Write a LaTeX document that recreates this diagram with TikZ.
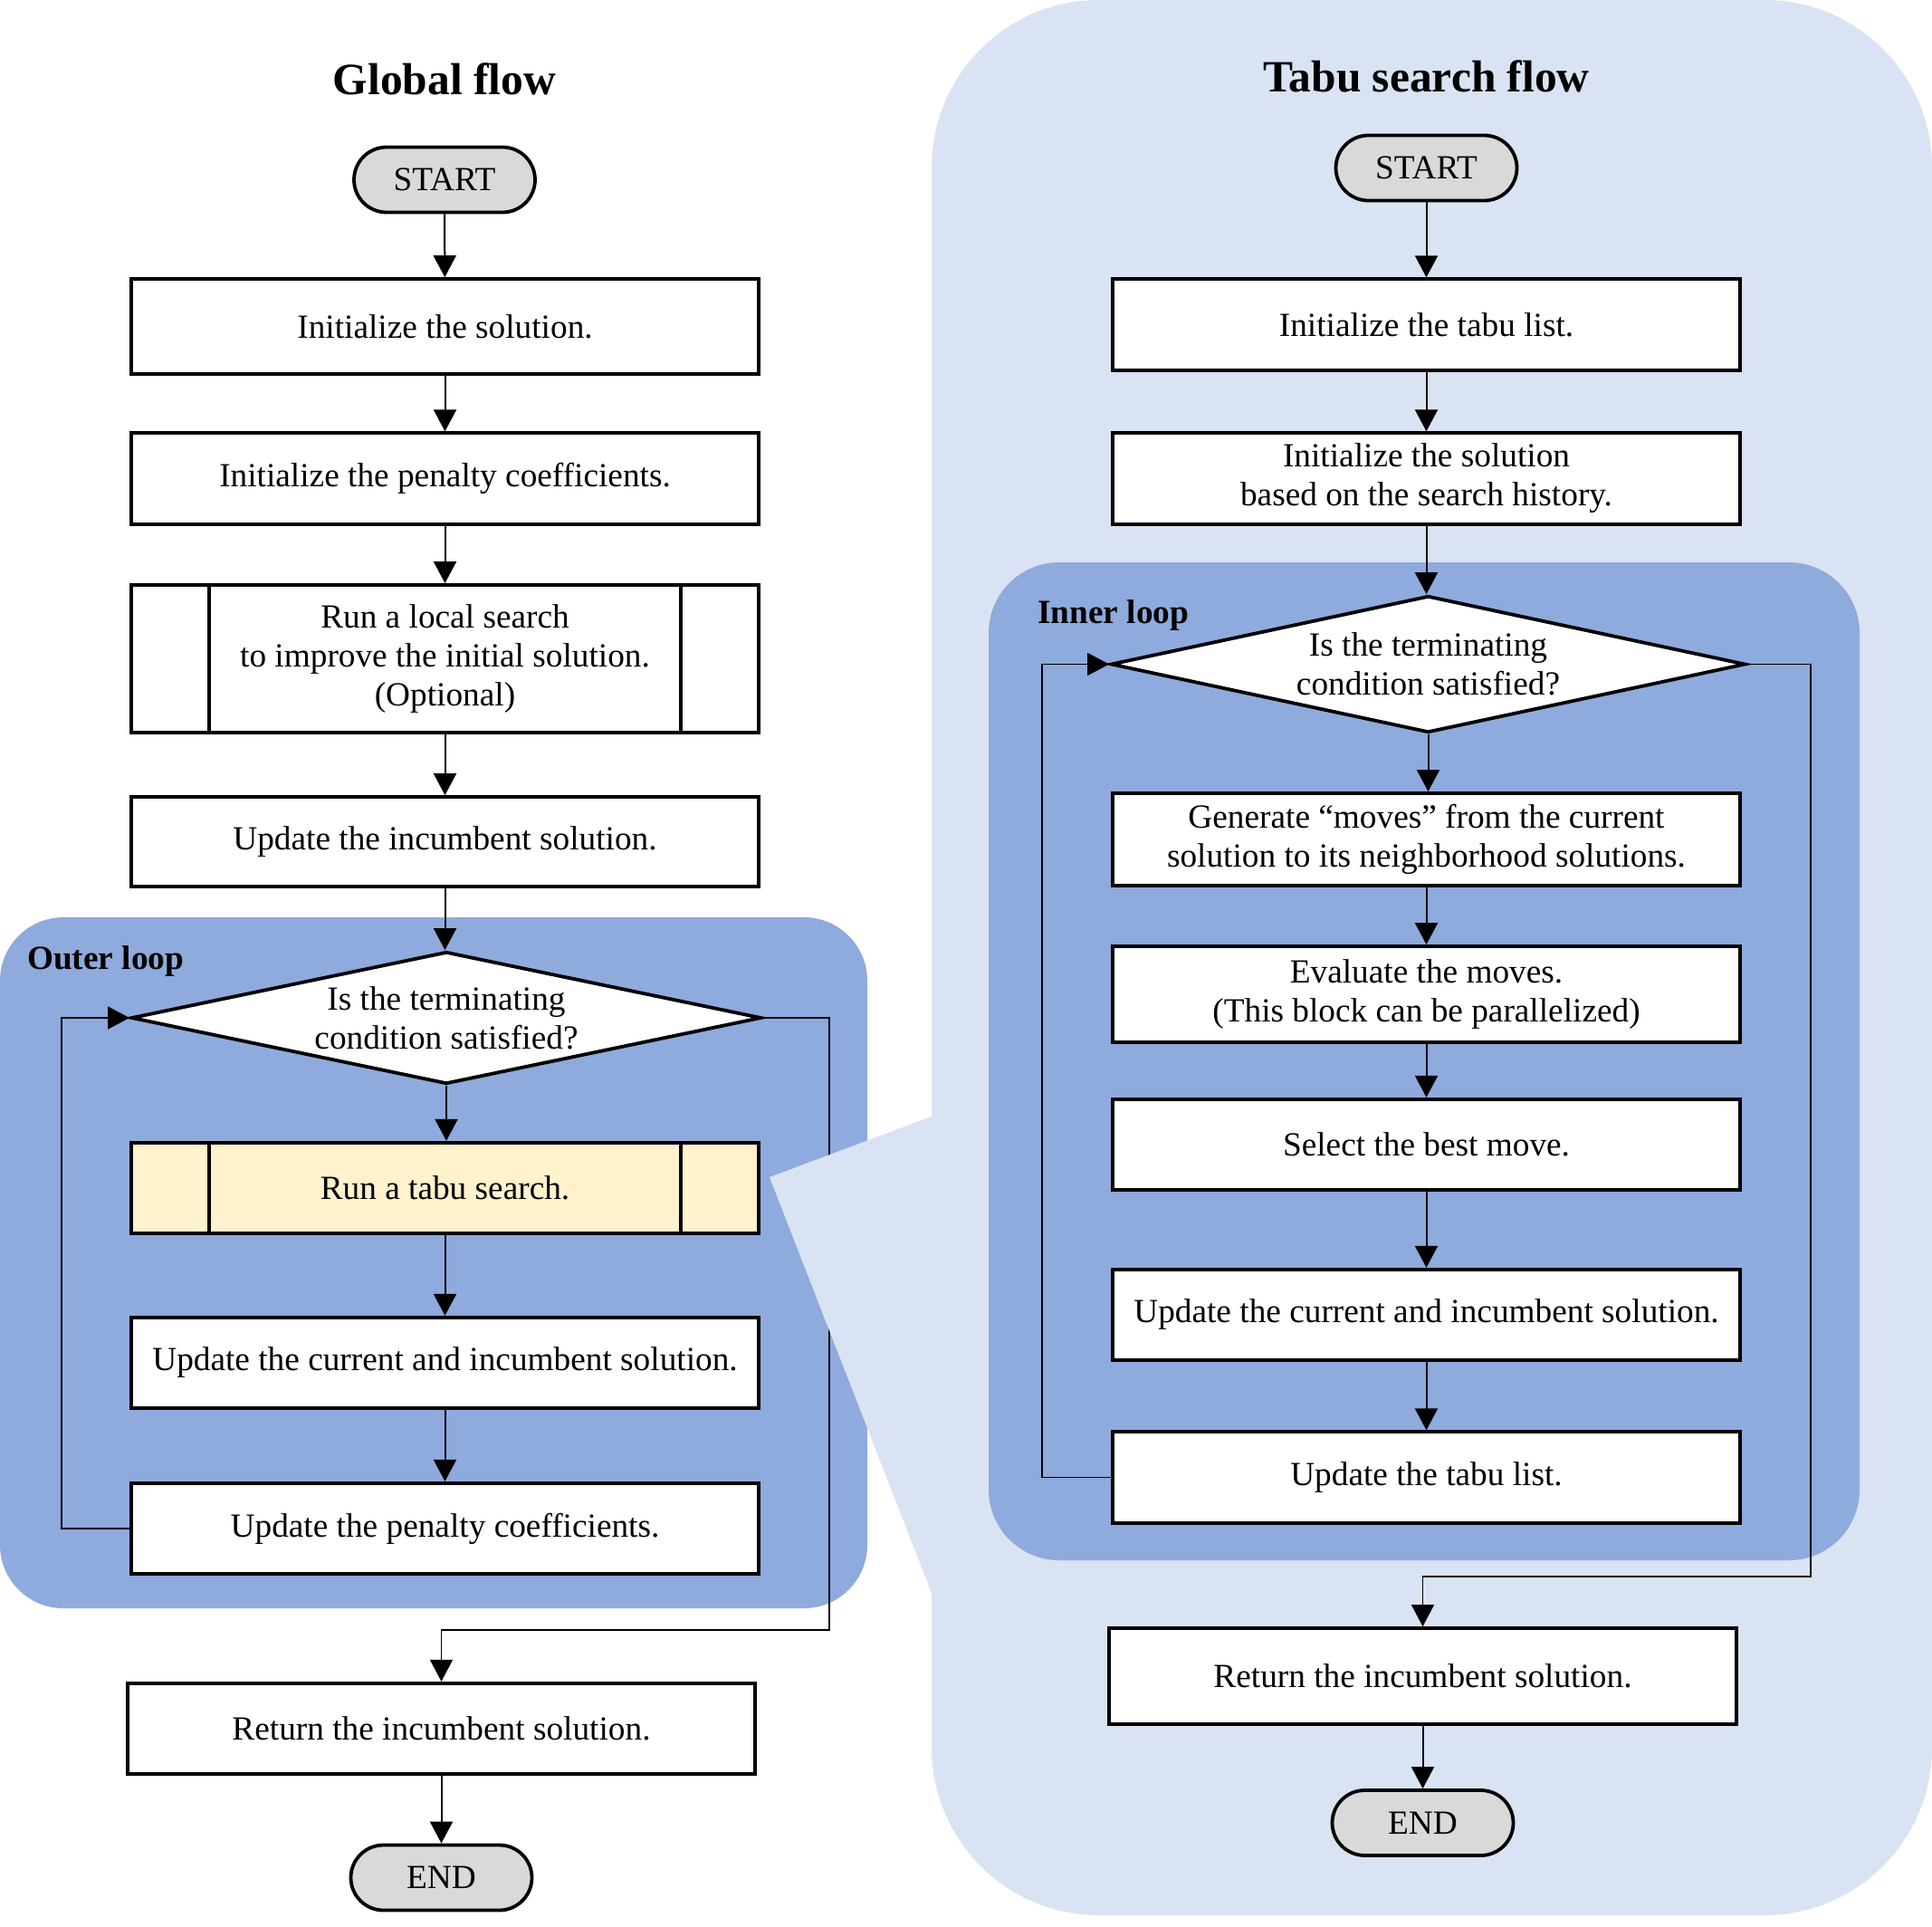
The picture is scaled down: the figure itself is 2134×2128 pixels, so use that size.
\documentclass[tikz,border=0pt]{standalone}
\usepackage{fontspec}
\setmainfont{Liberation Serif}
\usetikzlibrary{arrows.meta,shapes.geometric}

\definecolor{panelblue}{HTML}{DAE3F3}
\definecolor{loopblue}{HTML}{8FAADC}
\definecolor{subfill}{HTML}{FFF2CC}
\definecolor{termfill}{HTML}{D9D9D9}

\pgfdeclarelayer{regions}
\pgfdeclarelayer{links}
\pgfdeclarelayer{cover}
\pgfsetlayers{regions,links,cover,main}

\tikzset{
  txt/.style={font=\fontsize{37.3}{43}\selectfont},
  proc/.style={txt, draw, line width=3.8pt, fill=white, minimum width=693pt,
    minimum height=100.5pt, align=center, inner sep=0pt},
  term/.style={txt, draw, line width=3.8pt, fill=termfill, rounded corners=36pt,
    minimum width=200pt, minimum height=72pt, inner sep=0pt},
  decide/.style={txt, draw, line width=3.8pt, fill=white, diamond, aspect=4.74,
    minimum width=696pt, minimum height=146pt, inner sep=0pt, align=center},
  sidebar/.style={line width=3.8pt},
  title/.style={font=\fontsize{49.5}{55}\selectfont\bfseries, anchor=base},
  looplabel/.style={font=\fontsize{37.3}{43}\selectfont\bfseries, anchor=base west, inner sep=0pt},
  flow/.style={line width=2pt, -{Triangle[length=24pt,width=25pt]}},
  back/.style={line width=1.5pt, -{Triangle[length=24pt,width=25pt]}},
}

\begin{document}
\begin{tikzpicture}[x=1pt,y=-1pt]
\useasboundingbox (0,0) rectangle (2134,2128);

% ---------- backgrounds ----------
\begin{pgfonlayer}{regions}
  \fill[panelblue, rounded corners=185pt] (1029,0) rectangle (2134,2115);
  \fill[loopblue, rounded corners=70pt] (0,1013) rectangle (958,1776);
  \fill[loopblue, rounded corners=78pt] (1092,621) rectangle (2054,1723);
\end{pgfonlayer}

% callout linking the tabu search block to its detailed flow
\begin{pgfonlayer}{cover}
  \fill[panelblue] (850,1300) -- (1034,1231) -- (1034,1772) -- cycle;
\end{pgfonlayer}

% ---------- global flow ----------
\node[title] (gtitle) at (491,104) {Global flow};
\node[term] (gstart) at (491,198.5) {START};
\node[proc, minimum height=105pt] (g1) at (491.5,360.5) {Initialize the solution.};
\node[proc] (g2) at (491.5,528.5) {Initialize the penalty coefficients.};
\node[proc, minimum height=163pt] (g3) at (491.5,727.5) {Run a local search\\to improve the initial solution.\\(Optional)};
\node[proc, minimum height=99pt] (g4) at (491.5,929.5) {Update the incumbent solution.};
\node[looplabel] (glabel) at (30,1070) {Outer loop};
\node[decide] (gd) at (493,1124) {Is the terminating\\condition satisfied?};
\node[proc, fill=subfill] (gtabu) at (491.5,1312) {Run a tabu search.};
\node[proc] (gu) at (491.5,1505) {Update the current and incumbent solution.};
\node[proc] (gp) at (491.5,1688) {Update the penalty coefficients.};
\node[proc] (gret) at (487.5,1909) {Return the incumbent solution.};
\node[term] (gend) at (487.5,2073.5) {END};
\coordinate (gjoin) at (916,1800);

% side bars marking the two predefined-process blocks
\foreach \blk in {g3,gtabu}{
  \draw[sidebar] ([xshift=88pt]\blk.north west) -- ([xshift=88pt]\blk.south west);
  \draw[sidebar] ([xshift=-88pt]\blk.north east) -- ([xshift=-88pt]\blk.south east);
}

\begin{pgfonlayer}{links}
  \draw[flow] (gstart) -- (g1);
  \draw[flow] (g1) -- (g2);
  \draw[flow] (g2) -- (g3);
  \draw[flow] (g3) -- (g4);
  \draw[flow] (g4.south) -- (g4.south |- gd.north);
  \draw[flow] (gd.south) -- (gd.south |- gtabu.north);
  \draw[flow] (gtabu) -- (gu);
  \draw[flow] (gu) -- (gp);
  \draw[back] (gp.west) -- ++(-75,0) |- (gd.west);
  \draw[back] (gd.east) -| (gjoin) -| (gret.north);
  \draw[flow] (gret) -- (gend);
\end{pgfonlayer}

% ---------- tabu search flow ----------
\node[title] (ttitle) at (1575.5,101) {Tabu search flow};
\node[term] (tstart) at (1575.5,185.5) {START};
\node[proc] (t1) at (1575.5,358.5) {Initialize the tabu list.};
\node[proc] (t2) at (1575.5,528.5) {Initialize the solution\\based on the search history.};
\node[looplabel] (tlabel) at (1146,688) {Inner loop};
\node[decide, minimum width=701pt, minimum height=151pt, aspect=4.64] (td) at (1577.5,733.5) {Is the terminating\\condition satisfied?};
\node[proc, minimum height=102pt] (tgen) at (1575.5,927) {Generate “moves” from the current\\solution to its neighborhood solutions.};
\node[proc, minimum height=106pt] (teval) at (1575.5,1098) {Evaluate the moves.\\(This block can be parallelized)};
\node[proc] (tsel) at (1575.5,1264) {Select the best move.};
\node[proc] (tupd) at (1575.5,1452) {Update the current and incumbent solution.};
\node[proc] (ttabu) at (1575.5,1631.5) {Update the tabu list.};
\node[proc, minimum height=106pt] (tret) at (1571.5,1851) {Return the incumbent solution.};
\node[term] (tend) at (1571.5,2013) {END};
\coordinate (tjoin) at (2000,1741);

\begin{pgfonlayer}{links}
  \draw[flow] (tstart) -- (t1);
  \draw[flow] (t1) -- (t2);
  \draw[flow] (t2.south) -- (t2.south |- td.north);
  \draw[flow] (td.south) -- (td.south |- tgen.north);
  \draw[flow] (tgen) -- (teval);
  \draw[flow] (teval) -- (tsel);
  \draw[flow] (tsel) -- (tupd);
  \draw[flow] (tupd) -- (ttabu);
  \draw[back] (ttabu.west) -- ++(-76,0) |- (td.west);
  \draw[back] (td.east) -| (tjoin) -| (tret.north);
  \draw[flow] (tret) -- (tend);
\end{pgfonlayer}
\end{tikzpicture}
\end{document}
